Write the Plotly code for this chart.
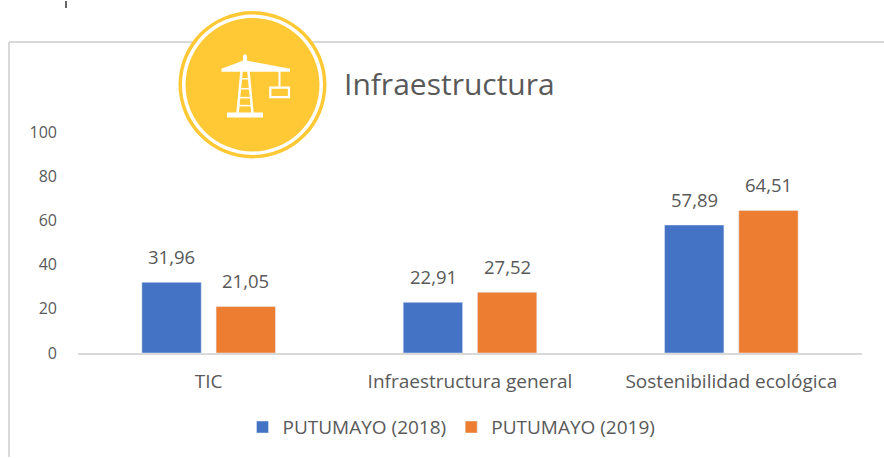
import plotly.graph_objects as go

categories = ["TIC", "Infraestructura general", "Sostenibilidad ecológica"]
series_2018 = [31.96, 22.91, 57.89]
series_2019 = [21.05, 27.52, 64.51]
labels_2018 = ["31,96", "22,91", "57,89"]
labels_2019 = ["21,05", "27,52", "64,51"]
tick_vals = [0, 20, 40, 60, 80, 100]

W, H = 884, 458
L, R, T, B = 78, 22, 131.5, 104.5
PW, PH = W - L - R, H - T - B
FONT = "Open Sans"
GREY = "#595959"

def px(x):
    return (x - L) / PW

def py(y):
    return (H - B - y) / PH

def path(points):
    return "M " + " L ".join(f"{px(x):.5f},{py(y):.5f}" for x, y in points) + " Z"

def circle(cx, cy, r, color):
    return dict(type="circle", xref="paper", yref="paper", layer="above",
                x0=px(cx - r), x1=px(cx + r), y0=py(cy + r), y1=py(cy - r),
                fillcolor=color, line_width=0)

def poly(points, color="white"):
    return dict(type="path", xref="paper", yref="paper", layer="above",
                path=path(points), fillcolor=color, line_width=0)

def line(x0, y0, x1, y1, color, width):
    return dict(type="line", xref="paper", yref="paper", layer="above",
                x0=px(x0), y0=py(y0), x1=px(x1), y1=py(y1),
                line=dict(color=color, width=width))

shapes = [
    line(9, 41, 884, 41, "#d9d9d9", 2),
    line(9, 41, 9, 458, "#d9d9d9", 2),
    line(66, 0, 66, 7, "#333333", 1.5),
    circle(252.5, 84, 74, "#FFC936"),
    circle(252.5, 84, 70.5, "white"),
    circle(252.5, 84, 67, "#FFC936"),
    # crane
    poly([(221.5, 68), (243, 60), (243, 55), (245, 53), (247, 55), (247, 60),
          (290, 68), (290, 71), (221.5, 71)]),
    line(242.5, 60, 237.5, 113, "white", 2.5),
    line(247.5, 60, 252.5, 113, "white", 2.5),
    line(241, 78, 250, 78, "white", 1.5),
    line(240, 88, 251, 88, "white", 1.5),
    line(239, 97, 252, 97, "white", 1.5),
    line(238.5, 105, 252.5, 105, "white", 1.5),
    poly([(227, 112), (263, 112), (263, 117), (227, 117)]),
    line(279.5, 70, 279.5, 86, "white", 2),
    dict(type="rect", xref="paper", yref="paper", layer="above",
         x0=px(270.3), x1=px(289), y0=py(96.5), y1=py(87),
         fillcolor="rgba(0,0,0,0)", line=dict(color="white", width=2.2)),
]

fig = go.Figure()
fig.add_bar(name="PUTUMAYO (2018)", x=categories, y=series_2018, marker_color="#4472C4")
fig.add_bar(name="PUTUMAYO (2019)", x=categories, y=series_2019, marker_color="#ED7D31")

annotations = [dict(text="Infraestructura", xref="paper", yref="paper",
                    x=px(342), y=py(83), xanchor="left", yanchor="middle",
                    showarrow=False, font=dict(size=30, color=GREY, family=FONT))]
for vals, labs, shift in ((series_2018, labels_2018, -37), (series_2019, labels_2019, 37)):
    for c, v, t in zip(categories, vals, labs):
        annotations.append(dict(x=c, y=v, text=t, showarrow=False, xshift=shift, yshift=25.5,
                                yanchor="middle", font=dict(size=18.5, color=GREY, family=FONT)))

fig.update_layout(
    width=W, height=H, autosize=False,
    margin=dict(l=L, r=R, t=T, b=B, pad=0),
    paper_bgcolor="white", plot_bgcolor="white",
    font=dict(family=FONT, size=17, color=GREY),
    barmode="group", bargap=0.432, bargroupgap=0.2,
    shapes=shapes, annotations=annotations,
    legend=dict(orientation="h", x=px(451.5), xanchor="center", y=py(428), yanchor="middle",
                font=dict(size=19, color=GREY), itemwidth=30),
    xaxis=dict(showline=True, linecolor="#d9d9d9", linewidth=2, ticks="", showgrid=False,
               tickfont=dict(size=19, color=GREY), ticklabelstandoff=10),
    yaxis=dict(range=[0, 100], tickvals=tick_vals, showgrid=False, zeroline=False,
               showline=False, ticks="", tickfont=dict(size=16, color=GREY), ticklabelstandoff=20),
)
fig.write_html("out.html", post_script="document.body.style.margin='0';",
               config={"displayModeBar": False})
